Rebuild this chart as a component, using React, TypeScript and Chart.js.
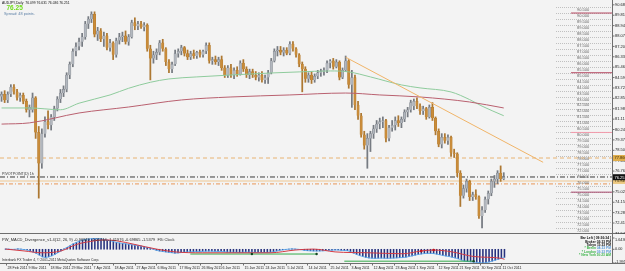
import React, { useEffect, useRef } from "react";
import { Chart, registerables } from "chart.js";
Chart.register(...registerables);

// ---------------- DATA ----------------
const OPEN = [
  83.0, 83.2, 82.7, 83.2, 83.8, 83.4, 82.9, 83.1, 82.6, 81.9,
  81.9, 82.9, 80.0, 77.4, 79.9, 80.9, 80.6, 81.3, 82.0, 82.8,
  83.3, 83.6, 84.8, 85.7, 86.8, 87.2, 87.6, 88.0, 89.1, 89.5,
  89.9, 88.2, 88.5, 87.8, 88.1, 87.1, 87.5, 86.5, 87.7, 88.0,
  88.1, 87.6, 88.0, 89.2, 88.9, 89.1, 88.8, 89.0, 87.0, 86.2,
  86.5, 86.7, 87.5, 87.0, 85.9, 85.3, 85.7, 86.6, 86.8, 87.1,
  86.6, 86.3, 86.6, 86.4, 86.7, 86.5, 86.8, 87.3, 86.0, 86.1,
  85.9, 86.1, 85.4, 84.8, 85.4, 84.8, 85.2, 84.9, 85.8, 85.3,
  84.8, 85.1, 84.8, 84.6, 84.8, 84.4, 84.6, 85.0, 86.0, 86.8,
  86.9, 86.7, 86.9, 86.6, 87.4, 87.0, 86.5, 85.7, 85.3, 84.5,
  84.8, 84.4, 84.7, 85.0, 85.1, 85.2, 85.8, 86.0, 85.5, 85.9,
  84.6, 85.2, 86.0, 84.0, 84.6, 82.3, 81.4, 79.8, 78.9, 79.5,
  79.9, 80.3, 80.7, 80.9, 81.0, 79.5, 80.4, 80.6, 81.0, 80.8,
  81.1, 81.7, 81.9, 82.2, 82.6, 82.2, 81.8, 82.0, 81.3, 82.1,
  81.2, 80.1, 79.0, 79.6, 79.3, 79.6, 78.3, 78.2, 76.6, 74.7,
  75.3, 75.9, 74.6, 74.8, 74.6, 73.0, 73.5, 74.4, 74.9, 75.9,
  76.1, 76.6, 76.099,
];
const HIGH = [
  83.4, 83.5, 83.4, 84.0, 84.0, 83.6, 83.3, 83.3, 82.8, 82.3,
  83.3, 83.0, 80.5, 80.3, 81.3, 81.8, 81.5, 82.2, 83.0, 83.6,
  83.9, 85.0, 85.9, 87.0, 87.5, 87.9, 88.3, 89.3, 89.7, 90.1,
  90.1, 88.8, 88.7, 88.4, 88.3, 87.8, 87.6, 87.9, 88.3, 88.4,
  88.5, 88.2, 89.4, 89.6, 89.3, 89.3, 89.2, 89.1, 87.3, 86.8,
  87.0, 87.7, 87.8, 87.1, 86.1, 85.9, 86.9, 87.0, 87.3, 87.2,
  86.9, 86.8, 86.9, 86.8, 86.9, 86.9, 87.5, 87.5, 86.3, 86.4,
  86.3, 86.4, 85.6, 85.6, 85.7, 85.4, 85.5, 86.0, 86.1, 85.5,
  85.3, 85.3, 85.1, 85.0, 85.1, 84.8, 85.2, 86.2, 87.0, 87.2,
  87.2, 87.1, 87.1, 87.6, 87.6, 87.1, 86.6, 85.9, 85.5, 85.0,
  85.1, 84.9, 85.2, 85.3, 85.4, 86.0, 86.1, 86.2, 86.1, 86.0,
  85.4, 86.4, 86.1, 85.2, 84.8, 82.6, 81.6, 80.1, 79.9, 80.1,
  80.6, 81.0, 81.2, 81.3, 81.1, 80.6, 81.0, 81.3, 81.4, 81.3,
  81.9, 82.1, 82.7, 82.8, 82.9, 82.4, 82.2, 82.1, 82.3, 82.5,
  81.3, 80.3, 79.9, 79.9, 79.8, 79.7, 78.6, 78.3, 76.8, 75.6,
  76.1, 76.0, 75.0, 75.2, 74.7, 73.8, 74.6, 75.1, 76.1, 76.4,
  76.8, 77.2, 76.631,
];
const LOW = [
  82.6, 82.5, 82.5, 83.0, 83.2, 82.7, 82.6, 82.4, 81.7, 81.3,
  81.7, 79.5, 74.5, 77.0, 79.6, 80.3, 80.2, 81.0, 81.8, 82.5,
  83.0, 83.4, 84.5, 85.5, 86.4, 86.9, 87.2, 87.8, 88.7, 89.2,
  88.0, 87.7, 87.6, 87.2, 86.9, 86.8, 86.1, 86.3, 87.4, 87.6,
  87.4, 87.3, 87.9, 88.6, 88.6, 88.7, 88.5, 86.8, 84.4, 85.8,
  86.1, 86.5, 86.8, 85.6, 85.0, 85.0, 85.6, 86.3, 86.5, 86.4,
  86.1, 86.1, 86.2, 86.2, 86.3, 86.3, 86.6, 85.8, 85.7, 85.7,
  85.6, 85.2, 84.6, 84.6, 84.6, 84.5, 84.7, 84.8, 85.1, 84.6,
  84.5, 84.6, 84.4, 84.3, 84.2, 84.1, 84.1, 84.9, 85.9, 86.4,
  86.5, 86.4, 86.5, 86.5, 86.8, 86.3, 85.5, 83.4, 84.2, 84.2,
  84.1, 84.2, 84.5, 84.7, 84.8, 85.0, 85.4, 85.3, 85.4, 84.4,
  84.5, 85.1, 83.7, 82.1, 81.9, 81.1, 79.6, 78.6, 77.0, 78.4,
  79.5, 80.0, 80.3, 80.4, 79.2, 79.3, 80.1, 80.2, 80.5, 80.4,
  80.9, 81.3, 81.7, 81.9, 82.0, 81.5, 81.5, 81.1, 81.2, 81.0,
  79.8, 78.8, 78.7, 79.1, 79.0, 78.0, 77.9, 76.3, 73.8, 74.5,
  75.0, 74.3, 74.3, 74.4, 72.8, 72.0, 73.3, 74.0, 74.7, 75.4,
  75.7, 75.9, 76.036,
];
const CLOSE = [
  83.2, 82.7, 83.2, 83.8, 83.4, 82.9, 83.1, 82.6, 81.9, 82.1,
  82.9, 80.0, 77.4, 79.9, 80.9, 80.6, 81.3, 82.0, 82.8, 83.3,
  83.6, 84.8, 85.7, 86.8, 87.2, 87.6, 88.0, 89.1, 89.5, 89.9,
  88.2, 88.5, 87.8, 88.1, 87.1, 87.5, 86.5, 87.7, 88.0, 88.1,
  87.6, 88.0, 89.2, 88.9, 89.1, 88.8, 89.0, 87.0, 86.2, 86.5,
  86.7, 87.5, 87.0, 85.9, 85.3, 85.7, 86.6, 86.8, 87.1, 86.6,
  86.3, 86.6, 86.4, 86.7, 86.5, 86.8, 87.3, 86.0, 86.1, 85.9,
  86.1, 85.4, 84.8, 85.4, 84.8, 85.2, 84.9, 85.8, 85.3, 84.8,
  85.1, 84.8, 84.6, 84.8, 84.4, 84.6, 85.0, 86.0, 86.8, 86.9,
  86.7, 86.9, 86.6, 87.4, 87.0, 86.5, 85.7, 85.3, 84.5, 84.8,
  84.4, 84.7, 85.0, 85.1, 85.2, 85.8, 86.0, 85.5, 85.9, 84.6,
  85.2, 86.0, 84.0, 84.6, 82.3, 81.4, 79.8, 78.9, 79.5, 79.9,
  80.3, 80.7, 80.9, 81.0, 79.5, 80.4, 80.6, 81.0, 80.8, 81.1,
  81.7, 81.9, 82.5, 82.6, 82.2, 81.8, 82.0, 81.3, 82.1, 81.2,
  80.1, 79.0, 79.6, 79.3, 79.6, 78.3, 78.2, 76.6, 74.7, 75.3,
  75.9, 74.6, 74.8, 74.6, 73.0, 73.5, 74.4, 74.9, 75.9, 76.1,
  76.6, 76.1, 76.251,
];

const DATES = [
  "28 Feb 2011", "9 Mar 2011", "18 Mar 2011", "29 Mar 2011", "7 Apr 2011", "18 Apr 2011",
  "27 Apr 2011", "6 May 2011", "17 May 2011", "26 May 2011", "6 Jun 2011", "15 Jun 2011",
  "24 Jun 2011", "5 Jul 2011", "14 Jul 2011", "25 Jul 2011", "3 Aug 2011", "12 Aug 2011",
  "23 Aug 2011", "1 Sep 2011", "12 Sep 2011", "21 Sep 2011", "30 Sep 2011", "11 Oct 2011",
];
const DATE_STEP = 7;

// moving averages (read at selected bars)
const MA_FAST_IDX = [0, 9, 19, 25, 35, 41, 48, 54, 63, 74, 87, 96, 106, 112, 119, 129, 135, 145, 151, 155, 162];
const MA_FAST = [82.05, 82.05, 81.9, 82.45, 83.14, 83.7, 84.2, 84.48, 84.65, 84.81, 84.98, 85.07, 85.15, 85.07, 84.65, 83.98, 83.73, 83.39, 82.75, 82.2, 81.4];
const MA_SLOW_IDX = [0, 9, 25, 41, 58, 74, 93, 111, 122, 135, 151, 162];
const MA_SLOW = [80.7, 80.8, 81.63, 82.13, 82.72, 82.97, 83.14, 83.3, 83.14, 82.97, 82.55, 82.05];

// trend line
const TREND_IDX = [111, 174.7];
const TREND = [86.3, 77.5];

// horizontal levels: dashed, pivot, band, dash-dot
const H_LEVELS = [77.86, 76.27, 75.94, 75.69];
const ROUND_LEVELS = [90.0, 85.0, 80.0, 75.0];

const LEVEL_LABELS = [
  90.5, 90.0, 89.5, 89.0, 88.5, 88.0, 87.5, 87.0, 86.5, 86.0, 85.5, 85.0, 84.5, 84.0, 83.5, 83.0,
  82.5, 82.0, 81.5, 81.0, 80.5, 80.0, 79.5, 79.0, 78.5, 78.0, 77.5, 77.0, 76.5, 76.0, 75.5, 75.0,
  74.5, 74.0, 73.5, 73.0, 72.5, 72.0,
];
const PRICE_TICKS = [
  90.685, 89.815, 88.945, 88.075, 87.205, 86.335, 85.465, 84.595, 83.725, 82.855, 81.985, 81.115,
  80.245, 79.375, 78.505, 77.635, 76.765, 75.895, 75.025, 74.155, 73.285, 72.415, 71.545,
];

// MACD panel
const HIST = [
  0.05, 0.02, -0.02, 0.0, 0.05, 0.02, -0.05, -0.1, -0.25, -0.4,
  -0.6, -0.85, -1.1, -1.2, -1.1, -0.95, -0.75, -0.5, -0.25, 0.05,
  0.3, 0.55, 0.8, 1.0, 1.2, 1.35, 1.45, 1.5, 1.55, 1.6,
  1.58, 1.52, 1.45, 1.35, 1.25, 1.12, 1.0, 0.92, 0.85, 0.8,
  0.72, 0.65, 0.6, 0.52, 0.45, 0.35, 0.25, 0.15, 0.0, -0.15,
  -0.25, -0.32, -0.38, -0.45, -0.5, -0.55, -0.52, -0.48, -0.42, -0.38,
  -0.36, -0.35, -0.34, -0.33, -0.3, -0.28, -0.26, -0.28, -0.3, -0.31,
  -0.32, -0.35, -0.4, -0.42, -0.42, -0.44, -0.45, -0.42, -0.4, -0.41,
  -0.43, -0.44, -0.46, -0.47, -0.46, -0.45, -0.42, -0.35, -0.25, -0.15,
  -0.08, -0.02, 0.02, 0.05, 0.04, 0.0, -0.06, -0.15, -0.2, -0.22,
  -0.24, -0.25, -0.24, -0.22, -0.2, -0.16, -0.12, -0.1, -0.1, -0.15,
  -0.18, -0.2, -0.35, -0.55, -0.75, -0.92, -1.05, -1.18, -1.25, -1.3,
  -1.32, -1.3, -1.28, -1.3, -1.32, -1.3, -1.28, -1.25, -1.22, -1.2,
  -1.15, -1.05, -0.95, -0.85, -0.75, -0.68, -0.62, -0.6, -0.6, -0.62,
  -0.7, -0.8, -0.9, -0.98, -1.05, -1.15, -1.25, -1.38, -1.55, -1.7,
  -1.78, -1.82, -1.86, -1.9, -1.95, -1.99, -1.95, -1.85, -1.72, -1.58,
  -1.45, -1.3, -1.18,
];
const SIGNAL_IDX = [0, 6, 12, 18, 23, 29, 32, 36, 42, 49, 55, 64, 75, 86, 94, 100, 107, 118, 129, 135, 139, 145, 152, 161, 162];
const SIGNAL = [0.03, -0.24, -0.51, -0.24, 0.7, 1.24, 1.37, 1.24, 0.7, 0.03, -0.38, -0.51, -0.51, -0.51, -0.11, 0.03, -0.38, -0.51, -0.65, -0.24, -0.11, -0.38, -1.05, -1.32, -1.46];
const DIV1_IDX = [60, 101];
const DIV1 = [-0.69, -0.69];
const DIV2_IDX = [110, 152];
const DIV2 = [-1.73, -1.73];
const DARK_MARK_IDX = [80, 101, 152];
const DARK_MARK = [-0.69, -0.69, -1.73];
const RED_MARK_IDX = [135, 139];
const RED_MARK = [-0.24, -0.11];
const MACD_TICKS = [1.643, 0.0, -1.9959];
const MACD_TICK_TEXT = ["1.6430", "0.00", "-1.9959"];

const SYMBOL = "AUDJPY,Daily";
const SPREAD = "Spread: 48 points.";
const MACD_TITLE = "PW_MACD_Divergence_v1.4(12, 26, 9) -0.96849 -1.65744 -1.41976 -0.69865 -1.5379  FXi Clock";
const COPYRIGHT = "Interbank FX Trader 4, \u00a9 2001-2011 MetaQuotes Software Corp.";
const PIVOT_TEXT = "PIVOTPOINT(D) 1h";
const CLOCK_NAMES = ["Bar Left", "Broker", "Tokyo", "* Berlin", "* London", "* New York"];
const CLOCK_TIMES = ["[ 09:36:34 ]", "02:23 PM", "11:23 PM", "04:23 PM", "03:23 PM", "10:23 AM"];

// ---------------- STYLE / GEOMETRY ----------------
const X_MIN = -0.5;
const X_MAX = 196.92;
const Y_MIN = 71.58;
const Y_MAX = 91.09;
const M_MIN = -1.9959;
const M_MAX = 1.643;
const ROUND_FROM = 183.7;
const AXIS_X = 612.5;
const BG = "#f3f3f3";
const FONT = "'Liberation Sans', Arial, sans-serif";
const ROUND_COLORS = ["#b5475f", "#b5475f", "#f29aab", "#a8486c"];

function line(data: any[], color: string, width: number, dash: number[], order: number, extra: any = {}) {
  return {
    type: "line",
    data,
    borderColor: color,
    borderWidth: width,
    borderDash: dash,
    pointRadius: 0,
    pointHoverRadius: 0,
    fill: false,
    tension: 0,
    order,
    ...extra,
  };
}
const pts = (xs: number[], ys: number[]) => xs.map((x, k) => ({ x, y: ys[k] }));

const mainOverlay = {
  id: "mainOverlay",
  beforeDatasetsDraw(chart: any) {
    const { ctx, scales } = chart;
    const y = scales.y;
    ctx.save();
    ctx.strokeStyle = "#aaaaaa";
    ctx.lineWidth = 0.7;
    ctx.setLineDash([1, 1]);
    LEVEL_LABELS.forEach((v) => {
      const py = Math.round(y.getPixelForValue(v)) + 0.5;
      ctx.beginPath();
      ctx.moveTo(556, py);
      ctx.lineTo(612, py);
      ctx.stroke();
    });
    ctx.restore();
  },
  afterDraw(chart: any) {
    const { ctx, scales } = chart;
    const y = scales.y;
    const last = CLOSE.length - 1;
    ctx.save();
    ctx.setLineDash([]);
    // level labels
    ctx.font = `4px ${FONT}`;
    ctx.fillStyle = "#666666";
    ctx.textAlign = "left";
    ctx.textBaseline = "top";
    LEVEL_LABELS.forEach((v) => {
      const py = y.getPixelForValue(v);
      ctx.fillText(v.toFixed(3), 577, py + 0.8);
    });
    // axis area
    ctx.fillStyle = BG;
    ctx.fillRect(AXIS_X, 0, 40, 234);
    ctx.strokeStyle = "#6e6e6e";
    ctx.lineWidth = 1;
    ctx.beginPath();
    ctx.moveTo(AXIS_X, 0);
    ctx.lineTo(AXIS_X, 234);
    ctx.stroke();
    ctx.beginPath();
    ctx.moveTo(0, 233.5);
    ctx.lineTo(650, 233.5);
    ctx.stroke();
    ctx.fillStyle = "#222";
    ctx.textBaseline = "middle";
    ctx.font = `4px ${FONT}`;
    PRICE_TICKS.forEach((v) => {
      const py = y.getPixelForValue(v);
      ctx.beginPath();
      ctx.moveTo(AXIS_X, py);
      ctx.lineTo(AXIS_X + 2, py);
      ctx.stroke();
      ctx.fillText(v.toFixed(3), 615, py);
    });
    // price tags
    const tag = (v: number, bg: string, fg: string) => {
      const py = y.getPixelForValue(v);
      ctx.fillStyle = bg;
      ctx.fillRect(AXIS_X + 0.5, py - 3, 14, 6);
      ctx.fillStyle = fg;
      ctx.fillText(v.toFixed(3), 614.5, py + 0.2);
    };
    tag(H_LEVELS[0], "#e0ae4c", "#3a2a00");
    tag(H_LEVELS[2], "#ecc880", "#3a2a00");
    tag(CLOSE[last], "#111111", "#ffffff");
    // pivot label
    ctx.fillStyle = "#333";
    ctx.font = `3.6px ${FONT}`;
    ctx.textBaseline = "bottom";
    ctx.fillText(PIVOT_TEXT, 2, y.getPixelForValue(H_LEVELS[1]) - 0.8);
    // header
    ctx.textBaseline = "middle";
    ctx.fillStyle = "#111";
    ctx.font = `3.4px ${FONT}`;
    ctx.fillText(
      `${SYMBOL}  ${OPEN[last].toFixed(3)} ${HIGH[last].toFixed(3)} ${LOW[last].toFixed(3)} ${CLOSE[last].toFixed(3)}`,
      2,
      2.6
    );
    ctx.fillStyle = "#6fdc1a";
    ctx.font = `bold 6.5px ${FONT}`;
    ctx.fillText(CLOSE[last].toFixed(2), 6.5, 8.3);
    ctx.fillStyle = "#5b7fa6";
    ctx.font = `3.8px ${FONT}`;
    ctx.fillText(SPREAD, 4, 13.6);
    ctx.restore();
  },
};

const subOverlay = {
  id: "subOverlay",
  afterDraw(chart: any) {
    const { ctx, scales } = chart;
    const x = scales.x;
    const y = scales.y;
    ctx.save();
    ctx.fillStyle = BG;
    ctx.fillRect(AXIS_X, 0, 40, 37);
    ctx.fillRect(0, 29.5, 650, 8);
    ctx.strokeStyle = "#6e6e6e";
    ctx.lineWidth = 1;
    ctx.beginPath();
    ctx.moveTo(AXIS_X, 0);
    ctx.lineTo(AXIS_X, 29.5);
    ctx.stroke();
    ctx.beginPath();
    ctx.moveTo(0, 29.5);
    ctx.lineTo(650, 29.5);
    ctx.stroke();
    // title & copyright
    ctx.fillStyle = "#2a2a2a";
    ctx.textAlign = "left";
    ctx.textBaseline = "middle";
    ctx.font = `4px ${FONT}`;
    ctx.fillText(MACD_TITLE, 2, 5.5);
    ctx.font = `3.4px ${FONT}`;
    ctx.fillText(COPYRIGHT, 2, 26);
    // axis labels
    ctx.fillStyle = "#222";
    ctx.font = `3.8px ${FONT}`;
    MACD_TICKS.forEach((v, k) => {
      const py = y.getPixelForValue(v);
      ctx.beginPath();
      ctx.moveTo(AXIS_X, py);
      ctx.lineTo(AXIS_X + 2, py);
      ctx.stroke();
      const ty = k === 0 ? py + 1.8 : k === 2 ? py - 1.5 : py;
      ctx.fillText(MACD_TICK_TEXT[k], 615, ty);
    });
    // clock
    ctx.textAlign = "right";
    CLOCK_NAMES.forEach((name, k) => {
      const ty = 4.3 + k * 3.35;
      ctx.font = `bold 3.3px ${FONT}`;
      if (k < 3) {
        ctx.fillStyle = "#111";
        ctx.fillText(`${name} ${CLOCK_TIMES[k]}`, 611, ty);
      } else {
        ctx.fillStyle = k === 5 ? "#3cb44a" : "#5a9ad8";
        ctx.fillText(CLOCK_TIMES[k], 611, ty);
        ctx.fillStyle = "#3cb44a";
        ctx.fillText(name, 596, ty);
      }
    });
    // date axis
    ctx.textAlign = "left";
    ctx.fillStyle = "#222";
    ctx.font = `3.6px ${FONT}`;
    DATES.forEach((d, k) => {
      const px = Math.round(x.getPixelForValue(k * DATE_STEP)) + 0.5;
      ctx.beginPath();
      ctx.moveTo(px, 29.5);
      ctx.lineTo(px, 31.5);
      ctx.stroke();
      ctx.fillText(d, px + 1, 33.6);
    });
    ctx.restore();
  },
};

function mainConfig(): any {
  const idx = OPEN.map((_, i) => i);
  const up = idx.map((i) => CLOSE[i] >= OPEN[i]);
  const span = (v: number) => [{ x: X_MIN, y: v }, { x: X_MAX, y: v }];
  const seg = (v: number) => [{ x: ROUND_FROM, y: v }, { x: X_MAX, y: v }];
  return {
    type: "bar",
    data: {
      datasets: [
        line(span(H_LEVELS[2]), "#f1ddc2", 2, [], 22),
        line(span(H_LEVELS[0]), "#e8b372", 1, [4, 3], 21),
        line(span(H_LEVELS[1]), "#3a3a3a", 1, [5, 2, 1, 2], 21),
        line(span(H_LEVELS[3]), "#e99657", 1, [4, 2, 1, 2], 21),
        ...ROUND_LEVELS.map((v, k) => line(seg(v), ROUND_COLORS[k], 1, [], 20)),
        {
          type: "bar",
          data: idx.map((i) => ({ x: i, y: [LOW[i], HIGH[i]] })),
          backgroundColor: idx.map((i) => (up[i] ? "#767b82" : "#ad7832")),
          barThickness: 1.1,
          grouped: false,
          order: 6,
        },
        {
          type: "bar",
          data: idx.map((i) => ({ x: i, y: [Math.min(OPEN[i], CLOSE[i]), Math.max(OPEN[i], CLOSE[i])] })),
          backgroundColor: idx.map((i) => (up[i] ? "#b2b7be" : "#c98c3a")),
          borderColor: idx.map((i) => (up[i] ? "#80858c" : "#b57b2e")),
          borderWidth: 0.5,
          barThickness: 2.4,
          minBarLength: 1,
          grouped: false,
          order: 5,
        },
        line(pts(MA_SLOW_IDX, MA_SLOW), "#b9606f", 1, [], 3, { cubicInterpolationMode: "monotone" }),
        line(pts(MA_FAST_IDX, MA_FAST), "#8ecb9c", 1, [], 3, { cubicInterpolationMode: "monotone" }),
        line(pts(TREND_IDX, TREND), "#f0b468", 1, [], 1),
      ],
    },
    options: {
      animation: false,
      responsive: false,
      maintainAspectRatio: false,
      devicePixelRatio: 1,
      events: [],
      layout: { padding: { left: 0, right: 38, top: 0, bottom: 1 } },
      plugins: { legend: { display: false }, tooltip: { enabled: false } },
      scales: {
        x: { type: "linear", min: X_MIN, max: X_MAX, offset: false, display: false },
        y: { type: "linear", min: Y_MIN, max: Y_MAX, display: false },
      },
    },
    plugins: [mainOverlay],
  };
}

function subConfig(): any {
  return {
    type: "bar",
    data: {
      datasets: [
        {
          type: "bar",
          data: HIST.map((v, i) => ({ x: i, y: v })),
          backgroundColor: "#27327e",
          barThickness: 0.9,
          grouped: false,
          order: 6,
        },
        line(HIST.map((v, i) => ({ x: i, y: v })), "#5aaaf0", 0.9, [], 4),
        line(pts(DIV1_IDX, DIV1), "#33aa4a", 1, [], 3),
        line(pts(DIV2_IDX, DIV2), "#33aa4a", 1, [], 3),
        line(pts(SIGNAL_IDX, SIGNAL), "#d23a44", 1, [], 2, { cubicInterpolationMode: "monotone" }),
        {
          type: "line",
          data: pts(DARK_MARK_IDX, DARK_MARK),
          showLine: false,
          pointRadius: 1.2,
          pointBackgroundColor: "#114422",
          pointBorderWidth: 0,
          order: 1,
        },
        {
          type: "line",
          data: pts(RED_MARK_IDX, RED_MARK),
          showLine: false,
          pointRadius: 1.3,
          pointBackgroundColor: "#c0101a",
          pointBorderWidth: 0,
          order: 1,
        },
      ],
    },
    options: {
      animation: false,
      responsive: false,
      maintainAspectRatio: false,
      devicePixelRatio: 1,
      events: [],
      layout: { padding: { left: 0, right: 38, top: 2, bottom: 8 } },
      plugins: { legend: { display: false }, tooltip: { enabled: false } },
      scales: {
        x: { type: "linear", min: X_MIN, max: X_MAX, offset: false, display: false },
        y: { type: "linear", min: M_MIN, max: M_MAX, display: false },
      },
    },
    plugins: [subOverlay],
  };
}

export default function App() {
  const mainRef = useRef<HTMLCanvasElement>(null);
  const subRef = useRef<HTMLCanvasElement>(null);
  useEffect(() => {
    document.body.style.margin = "0";
    const main = new Chart(mainRef.current as HTMLCanvasElement, mainConfig());
    const sub = new Chart(subRef.current as HTMLCanvasElement, subConfig());
    return () => {
      main.destroy();
      sub.destroy();
    };
  }, []);
  return (
    <div
      style={{
        position: "fixed",
        left: 0,
        top: 0,
        width: 625,
        height: 271,
        overflow: "hidden",
        background: BG,
      }}
    >
      <canvas
        ref={mainRef}
        width={650}
        height={234}
        style={{ position: "absolute", left: 0, top: 0, width: 650, height: 234 }}
      />
      <canvas
        ref={subRef}
        width={650}
        height={37}
        style={{ position: "absolute", left: 0, top: 234, width: 650, height: 37 }}
      />
    </div>
  );
}
